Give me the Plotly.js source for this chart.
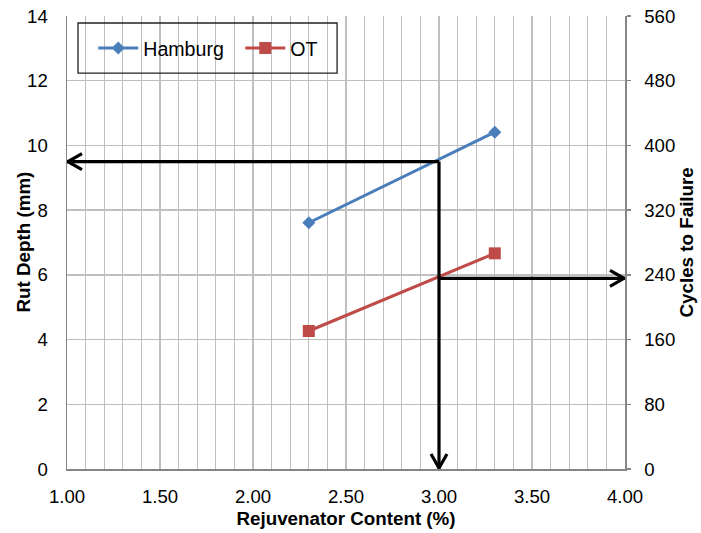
<!DOCTYPE html>
<html>
<head>
<meta charset="utf-8">
<script src="https://cdn.plot.ly/plotly-3.0.1.min.js"></script>
<style>html,body{margin:0;padding:0;background:#fff;}#chart{width:701px;height:533px;}</style>
</head>
<body>
<div id="chart"></div>
<script>
// Data
const rejuvContent = [2.3, 3.3];
const hamburgRut = [7.61, 10.41];
const otCycles = [170.6, 266.6];
// Read-off guide (arrows)
const targetContent = [3.0];
const rutAtTarget = [9.5];
const cyclesAtTarget = [235.7];
// Axis ranges / ticks
const xRange = [1.0, 4.0];
const rutRange = [0, 14];
const cyclesRange = [0, 560];

const FONT = "Liberation Sans, Arial, sans-serif";
const FS = 18.6;
const gridC = "#BFBFBF";
const axisC = "#868686";

const traces = [
  {x: rejuvContent, y: hamburgRut, name: "Hamburg", type: "scatter", mode: "lines+markers",
   line: {color: "#4A7EBB", width: 3}, marker: {symbol: "diamond", size: 10, color: "#4A7EBB"}, yaxis: "y"},
  {x: rejuvContent, y: otCycles, name: "OT", type: "scatter", mode: "lines+markers",
   line: {color: "#BE4B48", width: 3}, marker: {symbol: "square", size: 12, color: "#BE4B48"}, yaxis: "y2"}
];

const tx = targetContent[0], ry = rutAtTarget[0], cy = cyclesAtTarget[0];
const blk = {color: "#000", width: 3.2};
const shapes = [
  // legend box
  {type: "rect", xref: "paper", yref: "paper", x0: 0.0197, x1: 0.484, y0: 0.874, y1: 0.9845,
   line: {color: "#222", width: 1.3}, fillcolor: "rgba(255,255,255,0)", layer: "above"},
  // guide lines
  {type: "line", xref: "x", yref: "y", x0: tx, x1: xRange[0], y0: ry, y1: ry, line: blk, layer: "above"},
  {type: "line", xref: "x", yref: "y", x0: tx, x1: tx, y0: ry, y1: rutRange[0], line: blk, layer: "above"},
  {type: "line", xref: "x", yref: "y2", x0: tx, x1: xRange[1], y0: cy, y1: cy, line: blk, layer: "above"},
  // chevrons
  {type: "path", xref: "x", yref: "y", xsizemode: "pixel", ysizemode: "pixel", xanchor: xRange[0], yanchor: ry,
   path: "M 15 8 L 1 0 L 15 -8", line: blk, layer: "above"},
  {type: "path", xref: "x", yref: "y", xsizemode: "pixel", ysizemode: "pixel", xanchor: tx, yanchor: rutRange[0],
   path: "M -8 15 L 0 1 L 8 15", line: blk, layer: "above"},
  {type: "path", xref: "x", yref: "y2", xsizemode: "pixel", ysizemode: "pixel", xanchor: xRange[1], yanchor: cy,
   path: "M -15 8 L -1 0 L -15 -8", line: blk, layer: "above"}
];

const titleFont = {family: FONT, size: 18.8, color: "#000"};
const annotations = [
  {text: "<b>Rut Depth (mm)</b>", xref: "paper", yref: "paper", x: 0, y: 0.5, xanchor: "center", yanchor: "middle",
   xshift: -44, textangle: -90, showarrow: false, font: titleFont},
  {text: "<b>Cycles to Failure</b>", xref: "paper", yref: "paper", x: 1, y: 0.5, xanchor: "center", yanchor: "middle",
   xshift: 61, textangle: -90, showarrow: false, font: titleFont}
];

const layout = {
  width: 701, height: 533,
  margin: {l: 67, r: 76, t: 16, b: 64},
  paper_bgcolor: "#fff", plot_bgcolor: "#fff",
  font: {family: FONT, size: FS, color: "#000"},
  showlegend: true,
  legend: {orientation: "h", x: 0.047, y: 0.929, xanchor: "left", yanchor: "middle",
    bgcolor: "rgba(0,0,0,0)", borderwidth: 0, font: {family: FONT, size: 19.6, color: "#000"},
    itemwidth: 40, entrywidth: 92, entrywidthmode: "pixels", traceorder: "normal"},
  xaxis: {range: xRange, dtick: 0.5, tick0: 1, tickformat: ".2f", showgrid: true, gridcolor: gridC, gridwidth: 1.3,
    minor: {dtick: 0.1, showgrid: true, gridcolor: gridC, gridwidth: 1.3},
    showline: true, linecolor: axisC, linewidth: 1.5, ticks: "", zeroline: false,
    ticklabelstandoff: 10,
    title: {text: "<b>Rejuvenator Content (%)</b>", font: titleFont, standoff: 6}},
  yaxis: {range: rutRange, dtick: 2, showgrid: true, gridcolor: gridC, gridwidth: 1.3,
    showline: true, linecolor: axisC, linewidth: 1.5, ticks: "", zeroline: false, ticklabelstandoff: 14},
  yaxis2: {range: cyclesRange, dtick: 80, overlaying: "y", side: "right", showgrid: false,
    showline: true, linecolor: axisC, linewidth: 1.5, ticks: "outside", ticklen: 4, tickcolor: axisC, tickwidth: 1.5,
    zeroline: false, ticklabelstandoff: 10},
  shapes: shapes,
  annotations: annotations
};

Plotly.newPlot("chart", traces, layout, {displayModeBar: false, staticPlot: true});
</script>
</body>
</html>
